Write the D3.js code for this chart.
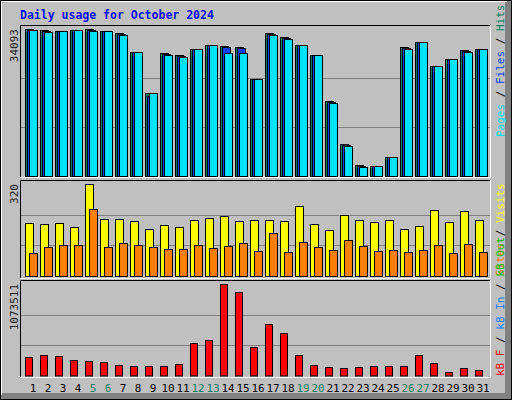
<!DOCTYPE html>
<html>
<head>
<meta charset="UTF-8">
<script src="https://d3js.org/d3.v7.min.js"></script>
<style>
  body { margin: 0; background: #fff; }
  text { font-family: "DejaVu Sans Mono", monospace; }
</style>
</head>
<body>
<div id="chart"></div>
<script>
// ---- data ----
const days = d3.range(1, 32);
const weekends = [5, 6, 12, 13, 19, 20, 26, 27];
const hits = [34093, 33860, 33630, 33860, 34093, 33630, 33160, 28760, 19250, 28520, 28060,
  29450, 30380, 30150, 29920, 22490, 33160, 32230, 30380, 28060, 17390, 7420, 2550, 2320,
  4410, 29920, 31080, 25510, 27130, 29220, 29450];
const files = [33860, 33630, 33630, 33860, 33860, 33630, 32930, 28760, 18560, 28290, 27830,
  29450, 30380, 29920, 29690, 22490, 32930, 32000, 30380, 28060, 17160, 7190, 2320, 2320,
  4410, 29690, 31080, 25510, 27130, 28990, 29450];
const pages = [33860, 33400, 33630, 33860, 33630, 33630, 32700, 28760, 19250, 28060, 27600,
  29450, 30380, 28520, 28520, 22490, 32700, 31770, 30380, 28060, 16930, 6960, 2090, 2320,
  4410, 29450, 31080, 25510, 27130, 28760, 29450];
const visits = [183, 180, 183, 169, 320, 197, 197, 190, 162, 176, 169, 194, 201, 208, 190,
  194, 194, 190, 242, 180, 159, 211, 194, 187, 194, 162, 173, 228, 187, 225, 194];
const sites = [79, 100, 107, 107, 232, 100, 114, 107, 100, 93, 93, 107, 96, 103, 114, 86,
  148, 82, 117, 100, 89, 124, 103, 86, 89, 82, 89, 107, 79, 110, 82];
const kbytes = [215500, 239000, 227200, 180200, 168500, 156700, 121500, 109700, 109700,
  109700, 133200, 380000, 415300, 1073511, 979500, 333000, 603400, 497600, 239000, 121500,
  97950, 86200, 97950, 109700, 109700, 109700, 239000, 145000, 39200, 86200, 62700];

const W = 512, H = 400;
const C = { hit: "#00805c", file: "#0040ff", page: "#00e0ff", visit: "#ffff00",
  site: "#ff8000", kbyte: "#ff0000", kout: "#00c000", kin: "#0080ff" };

const svg = d3.select("#chart").append("svg").attr("width", W).attr("height", H);

// background + bevel
svg.append("rect").attr("width", W).attr("height", H).attr("fill", "#c0c0c0");
svg.append("path").attr("d", `M${W - 4},1V${H - 4}H1`).attr("stroke", "#808080").attr("stroke-width", 6).attr("fill", "none");
svg.append("path").attr("d", `M1.5,${H - 5}V1.5H${W - 5}`).attr("stroke", "#fff").attr("fill", "none");
svg.append("rect").attr("x", 0.5).attr("y", 0.5).attr("width", W - 1).attr("height", H - 1)
  .attr("fill", "none").attr("stroke", "#000");

svg.append("text").attr("x", 20).attr("y", 19).attr("fill", "#0000ff")
  .attr("font-size", 11.5).attr("font-weight", "bold").text("Daily usage for October 2024");

const x = d3.scaleBand().domain(days).range([25, 25 + 15 * 31]);

function panel(y0, y1) {
  svg.append("rect").attr("x", 20).attr("y", y0).attr("width", 471).attr("height", y1 - y0)
    .attr("fill", "#c0c0c0");
  svg.append("path").attr("d", `M20.5,${y1}V${y0 + 0.5}H491`).attr("stroke", "#000").attr("fill", "none");
  svg.append("path").attr("d", `M20,${y1 - 0.5}H490.5V${y0}`).attr("stroke", "#fff").attr("fill", "none");
}

function grid(y, base, top) {
  [1, 2].forEach(k => {
    const gy = Math.round(y(top * k / 3)) + 0.5;
    svg.append("line").attr("x1", 21).attr("x2", 490).attr("y1", gy).attr("y2", gy)
      .attr("stroke", "#808080");
  });
}

function bars(data, y, dx, w, color) {
  svg.append("g").selectAll("rect").data(data).join("rect")
    .attr("x", (d, i) => x(days[i]) + dx + 0.5)
    .attr("y", d => Math.round(y(d)) + 0.5)
    .attr("width", w)
    .attr("height", d => y(0) - Math.round(y(d)))
    .attr("fill", color).attr("stroke", "#000");
}

function yLabel(txt, yTop) {
  svg.append("text").attr("transform", `translate(18,${yTop}) rotate(-90)`)
    .attr("text-anchor", "end").attr("font-size", 11).attr("fill", "#202020").text(txt);
}

function sideLabel(parts, yBottom) {
  const t = svg.append("text").attr("transform", `translate(504,${yBottom}) rotate(-90)`)
    .attr("font-size", 11);
  parts.forEach(p => t.append("tspan").attr("fill", p[1]).text(p[0]));
}

// top panel: hits / files / pages
panel(25, 178);
const yTop = d3.scaleLinear().domain([0, 34093]).range([176, 29]);
grid(yTop, 0, 34093);
bars(hits, yTop, 0, 8, C.hit);
bars(files, yTop, 2, 8, C.file);
bars(pages, yTop, 4, 8, C.page);
yLabel("34093", 29);
sideLabel([["Pages", C.page], [" / ", "#000"], ["Files", C.file], [" / ", "#000"], ["Hits", C.hit]], 137);

// middle panel: visits / sites
panel(180, 279);
const yMid = d3.scaleLinear().domain([0, 320]).range([276, 184]);
grid(yMid, 0, 320);
bars(visits, yMid, 0, 8, C.visit);
bars(sites, yMid, 4, 8, C.site);
yLabel("320", 184);
sideLabel([["Sites", C.site], [" / ", "#000"], ["Visits", C.visit]], 276);

// bottom panel: kbytes
panel(280, 378);
const yBot = d3.scaleLinear().domain([0, 1073511]).range([375.5, 284]);
grid(yBot, 0, 1073511);
bars(kbytes, yBot, 0, 7, C.kbyte);
yLabel("1073511", 284);
sideLabel([["kB F", C.kbyte], [" / ", "#000"], ["kB In", C.kin], [" / ", "#000"], ["kB Out", C.kout]], 376);

// day labels
svg.append("g").selectAll("text").data(days).join("text")
  .attr("x", d => x(d) + 8).attr("y", 392).attr("text-anchor", "middle")
  .attr("font-size", 11)
  .attr("fill", d => weekends.includes(d) ? "#00805c" : "#000")
  .text(d => d);
</script>
</body>
</html>
